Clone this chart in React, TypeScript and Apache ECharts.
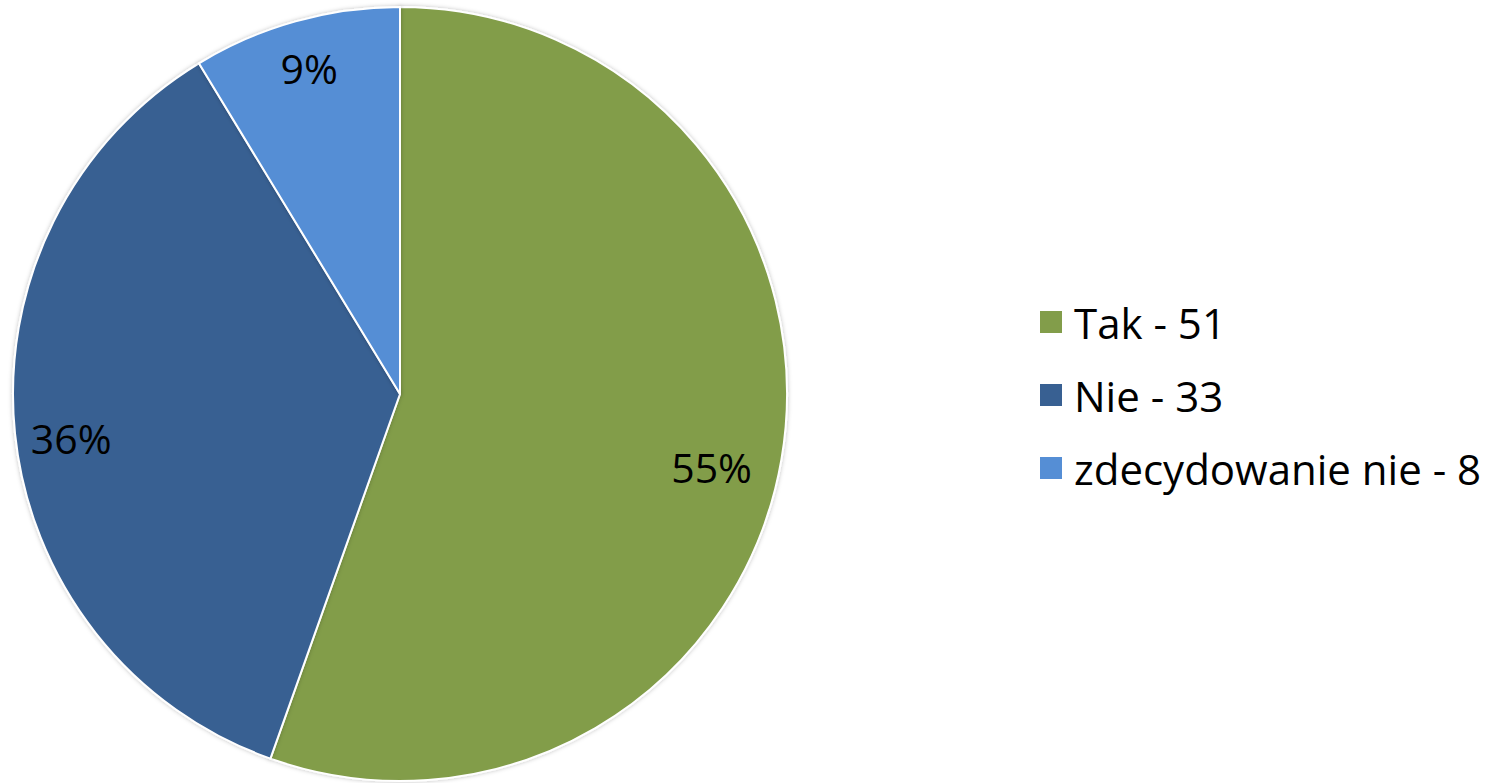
import React, { useEffect, useRef } from "react";
import * as echarts from "echarts";

const categories = ["Tak - 51", "Nie - 33", "zdecydowanie nie - 8"];
const values = [51, 33, 8];
const colors = ["#829D4A", "#386092", "#558ED5"];
const labelOffsets = [[-20, 16], [6, 10], [0, -2]];

export default function App() {
  const ref = useRef<HTMLDivElement>(null);
  useEffect(() => {
    if (!ref.current) return;
    const chart = echarts.init(ref.current, undefined, { renderer: "svg" });
    const data = categories.map((name, i) => ({ name, value: values[i], itemStyle: { color: colors[i] } }));
    const font = "Open Sans, Lato, sans-serif";
    chart.setOption({
      animation: false,
      legend: {
        orient: "vertical",
        left: 1033,
        top: 295,
        itemWidth: 24,
        itemHeight: 24,
        itemGap: 29,
        icon: "rect",
        textStyle: { fontSize: 42, fontFamily: font, color: "#000", lineHeight: 44, padding: [0, 0, 0, 6] },
        data: categories,
      },
      series: [
        {
          type: "pie",
          center: [400, 394],
          radius: [0, 387],
          startAngle: 90,
          clockwise: true,
          percentPrecision: 0,
          itemStyle: { borderColor: "#fff", borderWidth: 2, shadowBlur: 4, shadowColor: "rgba(0,0,0,0.25)" },
          label: { show: false },
          labelLine: { show: false },
          silent: true,
          data,
        },
        {
          type: "pie",
          center: [400, 394],
          radius: [280, 387],
          startAngle: 90,
          clockwise: true,
          percentPrecision: 0,
          itemStyle: { color: "transparent", opacity: 0 },
          label: {
            show: true,
            position: "inside",
            formatter: "{d}%",
            fontSize: 41,
            fontFamily: font,
            color: "#000",
            opacity: 1,
          },
          labelLine: { show: false },
          silent: true,
          legendHoverLink: false,
          data: categories.map((name, i) => ({
            name: name + " ",
            value: values[i],
            itemStyle: { opacity: 0 },
            label: { opacity: 1, offset: labelOffsets[i] },
          })),
        },
      ],
    });
    return () => chart.dispose();
  }, []);
  return <div ref={ref} style={{ position: "fixed", left: 0, top: 0, width: 1502, height: 783, background: "#fff" }} />;
}
